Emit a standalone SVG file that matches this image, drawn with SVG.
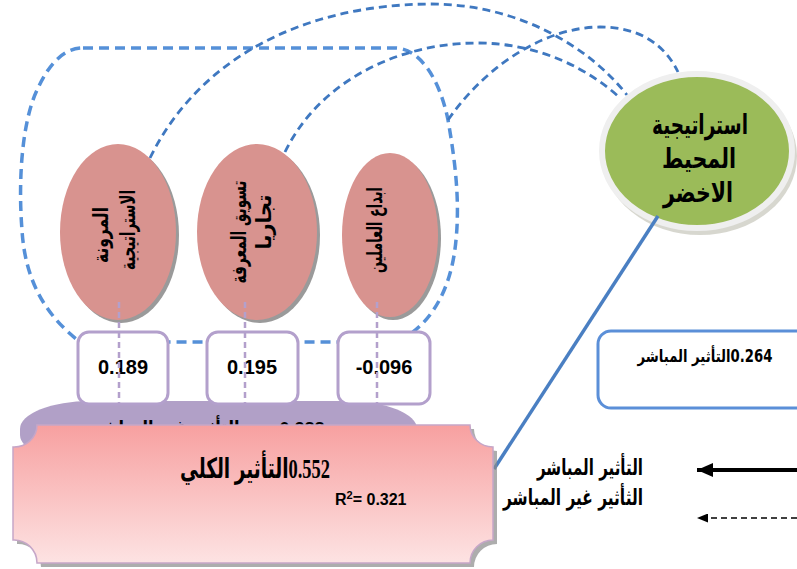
<svg xmlns="http://www.w3.org/2000/svg" width="797" height="569" viewBox="0 0 797 569">
<defs>
<style>
.ar{font-family:"DejaVu Sans","Noto Sans",sans-serif;font-weight:bold;fill:#000}
.num{font-family:"Liberation Sans",Arial,sans-serif;font-weight:bold;fill:#000}
.thick{fill:none;stroke:#5590d8;stroke-width:3.5;stroke-dasharray:10 6}
.thin{fill:none;stroke:#3f78c0;stroke-width:2.8;stroke-dasharray:8 5}
.pill{fill:#d8938f}
.shadow{fill:#9a9a9a}
.box{fill:#fff;stroke:#b3a0cc;stroke-width:3}
.vline{stroke:#b3a0cc;stroke-width:2.5;stroke-dasharray:6 4}
</style>
<linearGradient id="pinkG" x1="0" y1="0" x2="0" y2="1">
<stop offset="0" stop-color="#f7a0a0"/>
<stop offset="1" stop-color="#fde3e3"/>
</linearGradient>
<marker id="headSolid" markerUnits="userSpaceOnUse" markerWidth="16" markerHeight="14" refX="16" refY="7" orient="auto">
<path d="M16,7 L0,0 L0,14 Z" fill="#000"/>
</marker>
<marker id="headDash" markerUnits="userSpaceOnUse" markerWidth="11" markerHeight="9" refX="11" refY="4.5" orient="auto">
<path d="M11,4.5 L0,0 L0,9 Z" fill="#000"/>
</marker>
</defs>

<g id="connectors">
<path class="thick" d="M83,48 L395,48 C420,48 440,80 448,120 C455,160 460,200 456,240 C452,285 435,315 413,332 L405,342 L80,342 C45,315 25,280 22,230 C18,180 22,120 38,88 C50,62 65,48 83,48 Z"/>
<path class="thin" d="M150,158 C198,60 300,5 430,4 C520,4 590,48 627,95"/>
<path class="thin" d="M285,152 C320,80 400,43 477,43 C540,43 590,70 620,98"/>
<path class="thin" d="M448,120 C490,60 550,27 600,27 C640,27 665,45 678,72"/>
</g>

<g id="node-e1">
<ellipse class="shadow" cx="121" cy="235" rx="58" ry="88"/>
<ellipse class="pill" cx="118" cy="232" rx="58" ry="88"/>
<text class="ar" font-size="21" text-anchor="middle" textLength="56" lengthAdjust="spacingAndGlyphs" transform="translate(108,235) rotate(-90)">المرونة</text>
<text class="ar" font-size="21" text-anchor="middle" textLength="80" lengthAdjust="spacingAndGlyphs" transform="translate(135,230) rotate(-90)">الاستراتيجية</text>
</g>
<g id="node-e2">
<ellipse class="shadow" cx="260" cy="235" rx="60" ry="88"/>
<ellipse class="pill" cx="257" cy="232" rx="60" ry="88"/>
<text class="ar" font-size="21" text-anchor="middle" textLength="103" lengthAdjust="spacingAndGlyphs" transform="translate(246,232) rotate(-90)">تسويق المعرفة</text>
<text class="ar" font-size="21" text-anchor="middle" textLength="55" lengthAdjust="spacingAndGlyphs" transform="translate(271,222) rotate(-90)">تجاريا</text>
</g>
<g id="node-e3">
<ellipse class="shadow" cx="393" cy="238" rx="48" ry="82"/>
<ellipse class="pill" cx="390" cy="235" rx="48" ry="82"/>
<text class="ar" font-size="21" text-anchor="middle" textLength="86" lengthAdjust="spacingAndGlyphs" transform="translate(382,230) rotate(-90)">ابداع العاملين</text>
</g>

<g id="node-green">
<ellipse cx="700" cy="156" rx="97" ry="79" fill="#b0b0a0" opacity="0.5"/>
<ellipse cx="697" cy="151" rx="95" ry="77" fill="#9bbb59" stroke="#efefef" stroke-width="6"/>
<text class="ar" font-size="27" text-anchor="middle" x="700" y="134" textLength="96" lengthAdjust="spacingAndGlyphs">استراتيجية</text>
<text class="ar" font-size="27" text-anchor="middle" x="699" y="168" textLength="74" lengthAdjust="spacingAndGlyphs">المحيط</text>
<text class="ar" font-size="27" text-anchor="middle" x="698" y="202" textLength="70" lengthAdjust="spacingAndGlyphs">الاخضر</text>
</g>

<g id="direct-line">
<line x1="658" y1="216" x2="494" y2="469" stroke="#4a7fc2" stroke-width="3.5"/>
</g>

<g id="node-indirect">
<rect x="20" y="401" width="397" height="62" rx="70" ry="28" fill="#b1a0c7"/>
<text class="ar" font-size="20" text-anchor="middle" x="166" y="435" textLength="147" lengthAdjust="spacingAndGlyphs">التأثير غير المباشر</text>
<text class="num" font-size="18" text-anchor="middle" x="302" y="435">0.288</text>
</g>

<g id="node-b1">
<rect class="box" x="78" y="332" width="90" height="72" rx="11"/>
<text class="num" font-size="20" text-anchor="middle" x="123" y="374">0.189</text>
</g>
<g id="node-b2">
<rect class="box" x="207" y="332" width="91" height="72" rx="11"/>
<text class="num" font-size="20" text-anchor="middle" x="252" y="374">0.195</text>
</g>
<g id="node-b3">
<rect class="box" x="338" y="332" width="92" height="72" rx="11"/>
<text class="num" font-size="20" text-anchor="middle" x="384" y="374">-0.096</text>
</g>
<g id="vlines">
<line class="vline" x1="119" y1="302" x2="119" y2="404"/>
<line class="vline" x1="245" y1="302" x2="245" y2="404"/>
<line class="vline" x1="377" y1="302" x2="377" y2="404"/>
</g>

<g id="node-total">
<path d="M41,429 L474,429 A23 22 0 0 0 497,451 L497,544 A23 23 0 0 0 474,567 L41,567 A23 23 0 0 0 17,544 L17,451 A23 22 0 0 0 41,429 Z" fill="#8a8a8a" opacity="0.7"/>
<path d="M37,425 L470,425 A23 22 0 0 0 493,447 L493,540 A23 23 0 0 0 470,563 L37,563 A23 23 0 0 0 13,540 L13,447 A23 22 0 0 0 37,425 Z" fill="url(#pinkG)" stroke="#c6a6c8" stroke-width="1.5"/>
<text font-family="Liberation Serif,DejaVu Sans,serif" font-weight="bold" font-size="28" direction="rtl" text-anchor="middle" x="255" y="478" textLength="150" lengthAdjust="spacingAndGlyphs" fill="#000">0.552التأثير الكلي</text>
<text class="num" font-size="16" x="335" y="505">R<tspan font-size="11" dy="-6">2</tspan><tspan dy="6">= 0.321</tspan></text>
</g>

<g id="node-direct">
<rect x="598" y="331" width="215" height="77" rx="13" fill="#fff" stroke="#5b8fd8" stroke-width="3"/>
<text class="ar" font-size="17" direction="rtl" text-anchor="middle" x="705" y="362" textLength="135" lengthAdjust="spacingAndGlyphs">0.264التأثير المباشر</text>
</g>

<g id="legend">
<text class="ar" font-size="22" direction="rtl" text-anchor="middle" x="590" y="475" textLength="106" lengthAdjust="spacingAndGlyphs">التأثير المباشر</text>
<text class="ar" font-size="22" direction="rtl" text-anchor="middle" x="573" y="505" textLength="140" lengthAdjust="spacingAndGlyphs">الثأثير غير المباشر</text>
<line x1="797" y1="470" x2="697" y2="470" stroke="#000" stroke-width="4" marker-end="url(#headSolid)"/>
<line x1="797" y1="518" x2="697" y2="518" stroke="#000" stroke-width="1.5" stroke-dasharray="6 4" marker-end="url(#headDash)"/>
</g>
</svg>
